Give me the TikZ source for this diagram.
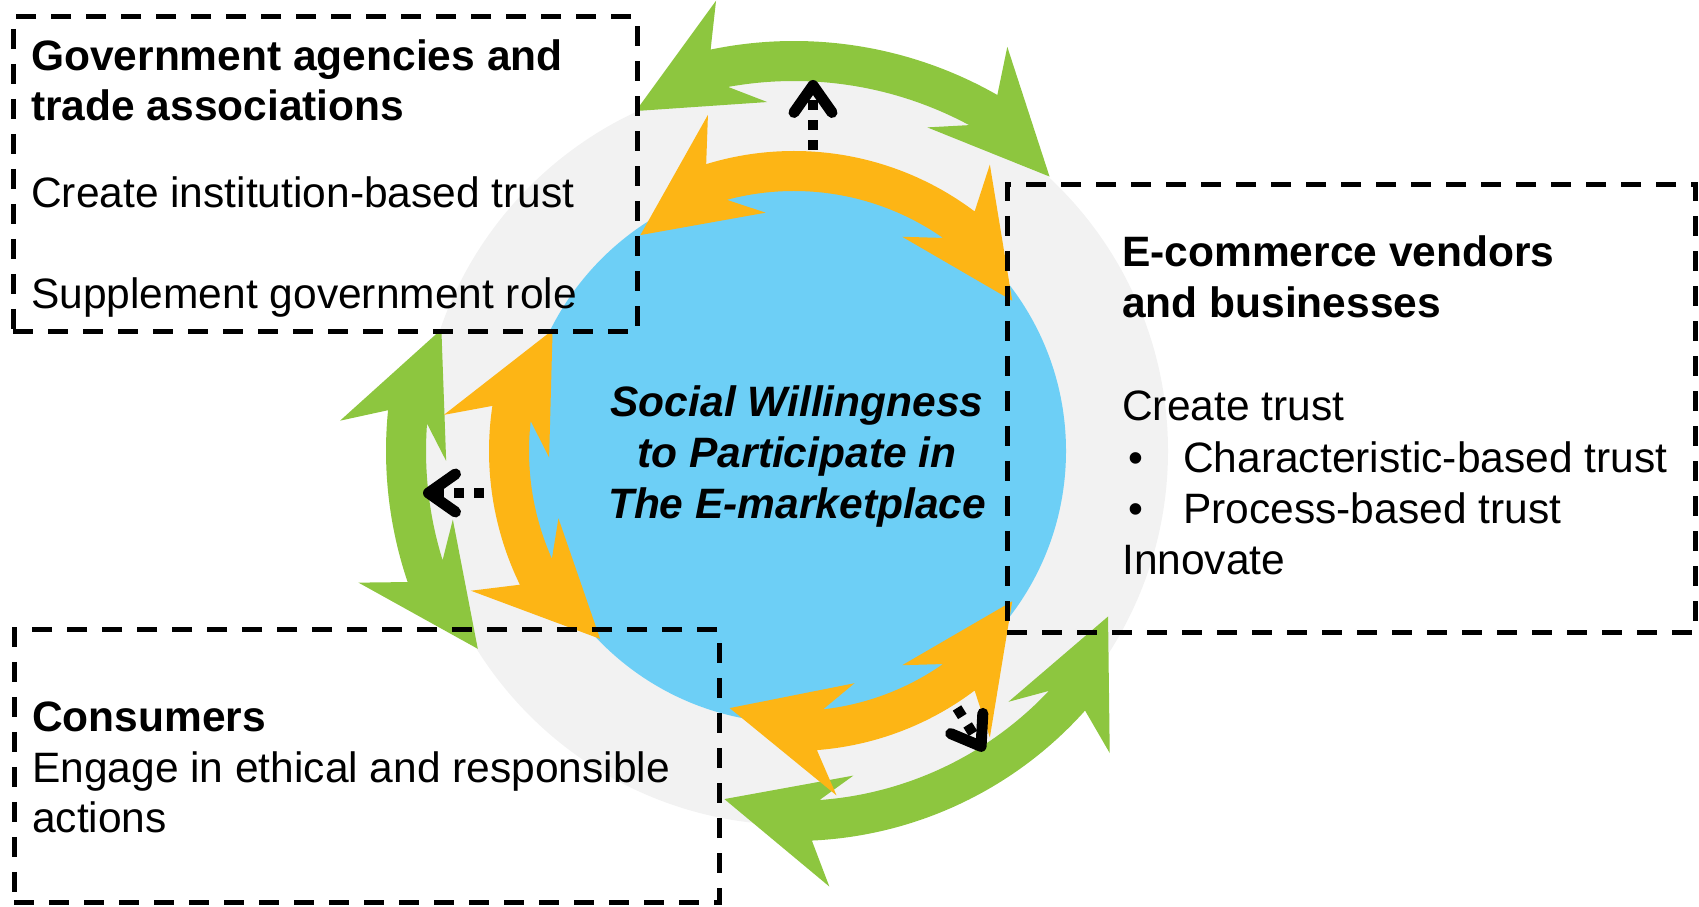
\documentclass[tikz,border=0pt]{standalone}
\usepackage{fontspec}
\setmainfont{Liberation Sans}
\usetikzlibrary{positioning, arrows.meta}

\definecolor{ringgrey}{HTML}{F2F2F2}
\definecolor{coreblue}{HTML}{6DCFF6}
\definecolor{leafgreen}{HTML}{8DC63F}
\definecolor{sunorange}{HTML}{FDB515}

% curved double arrow round the centre: colour, mid radius, start angle, end angle
\newcommand{\dblcurve}[4]{%
  \pgfmathsetmacro{\tipang}{95/#2*57.2958}%
  \pgfmathsetmacro{\outang}{8/#2*57.2958}%
  \pgfmathsetmacro{\inang}{45/#2*57.2958}%
  \pgfmathsetmacro{\endang}{5/#2*57.2958}%
  \pgfmathsetmacro{\rout}{#2+20}\pgfmathsetmacro{\rinn}{#2-20}%
  \pgfmathsetmacro{\rbo}{#2+67}\pgfmathsetmacro{\rbi}{#2-40}\pgfmathsetmacro{\rtip}{#2-15}%
  \fill[#1] (#4+\tipang:\rtip pt) -- (#4-\outang:\rbo pt) -- (#4+\endang:\rout pt)
    arc[start angle=#4+\endang, end angle=#3-\endang, radius=\rout pt]
    -- (#3+\outang:\rbo pt) -- (#3-\tipang:\rtip pt) -- (#3+\inang:\rbi pt)
    -- (#3+\endang:\rinn pt)
    arc[start angle=#3+\endang, end angle=#4-\endang, radius=\rinn pt]
    -- (#4-\inang:\rbi pt) -- cycle;}

\begin{document}
\begin{tikzpicture}[x=1pt, y=1pt,
  box/.style={draw, line width=5pt, dash pattern=on 20pt off 15pt, inner sep=0pt, outer sep=0pt, anchor=north west},
  txt/.style={inner sep=0pt, anchor=base west, font=\fontsize{42.5}{51}\selectfont},
  hdr/.style={txt, font=\fontsize{42.5}{51}\selectfont\bfseries},
  dotarrow/.style={line width=10pt, dash pattern=on 10pt off 10pt, -{Straight Barb[length=27pt, width=38pt, line width=11pt, round]}}]
  \useasboundingbox (0,0) rectangle (1699,907);
  % discs
  \node[circle, fill=ringgrey, minimum size=748pt, inner sep=0pt] (ring) at (794,456) {};
  \node[circle, fill=coreblue, minimum size=544pt, inner sep=0pt] (core) at (794,456) {};
  % curved arrows
  \begin{scope}[shift={(core.center)}]
    \dblcurve{leafgreen}{390}{61}{101}
    \dblcurve{leafgreen}{388}{175}{198}
    \dblcurve{leafgreen}{370}{273.4}{317.5}
    \dblcurve{sunorange}{280}{54}{106}
    \dblcurve{sunorange}{285}{172.5}{205}
    \dblcurve{sunorange}{280}{275.4}{306}
  \end{scope}
  % dotted arrows
  \coordinate (upfrom) at (813,757);
  \coordinate (upto) at (813,827);
  \coordinate (leftfrom) at (484,414);
  \coordinate (leftto) at (423,414);
  \coordinate (downfrom) at (957,199);
  \coordinate (downto) at (984,156);
  \draw[dotarrow] (upfrom) -- (upto);
  \draw[dotarrow] (leftfrom) -- (leftto);
  \draw[dotarrow] (downfrom) -- (downto);
  % boxes
  \node[box, minimum width=624pt, minimum height=315pt] (govbox) at (13,890) {};
  \node[box, minimum width=688pt, minimum height=448pt] (vendbox) at (1007,722) {};
  \node[box, minimum width=705pt, minimum height=273pt] (consbox) at (14,277) {};
  % texts
  \node[hdr] (govhead) at (31,836) {Government agencies and};
  \node[hdr] (govhead2) at ([yshift=-50pt]govhead.base west) {trade associations};
  \node[txt] (govline1) at ([yshift=-87pt]govhead2.base west) {Create institution-based trust};
  \node[txt] (govline2) at ([yshift=-101pt]govline1.base west) {Supplement government role};

  \node[hdr] (vendhead) at (1122,640) {E-commerce vendors};
  \node[hdr] (vendhead2) at ([yshift=-51pt]vendhead.base west) {and businesses};
  \node[txt] (vendline1) at ([yshift=-103pt]vendhead2.base west) {Create trust};
  \node[txt] (bullet1) at ([xshift=6pt, yshift=-52pt]vendline1.base west) {•};
  \node[txt] (vendline2) at ([xshift=61pt, yshift=-52pt]vendline1.base west) {Characteristic-based trust};
  \node[txt] (bullet2) at ([yshift=-51pt]bullet1.base west) {•};
  \node[txt] (vendline3) at ([yshift=-51pt]vendline2.base west) {Process-based trust};
  \node[txt] (vendline4) at ([yshift=-154pt]vendline1.base west) {Innovate};

  \node[hdr] (conshead) at (32,175) {Consumers};
  \node[txt] (consline1) at ([yshift=-51pt]conshead.base west) {Engage in ethical and responsible};
  \node[txt] (consline2) at ([yshift=-50pt]consline1.base west) {actions};

  \node[align=center, inner sep=0pt, font=\fontsize{42.5}{51}\selectfont\bfseries\itshape] (title) at (797,450) {Social Willingness\\to Participate in\\The E-marketplace};
\end{tikzpicture}
\end{document}
